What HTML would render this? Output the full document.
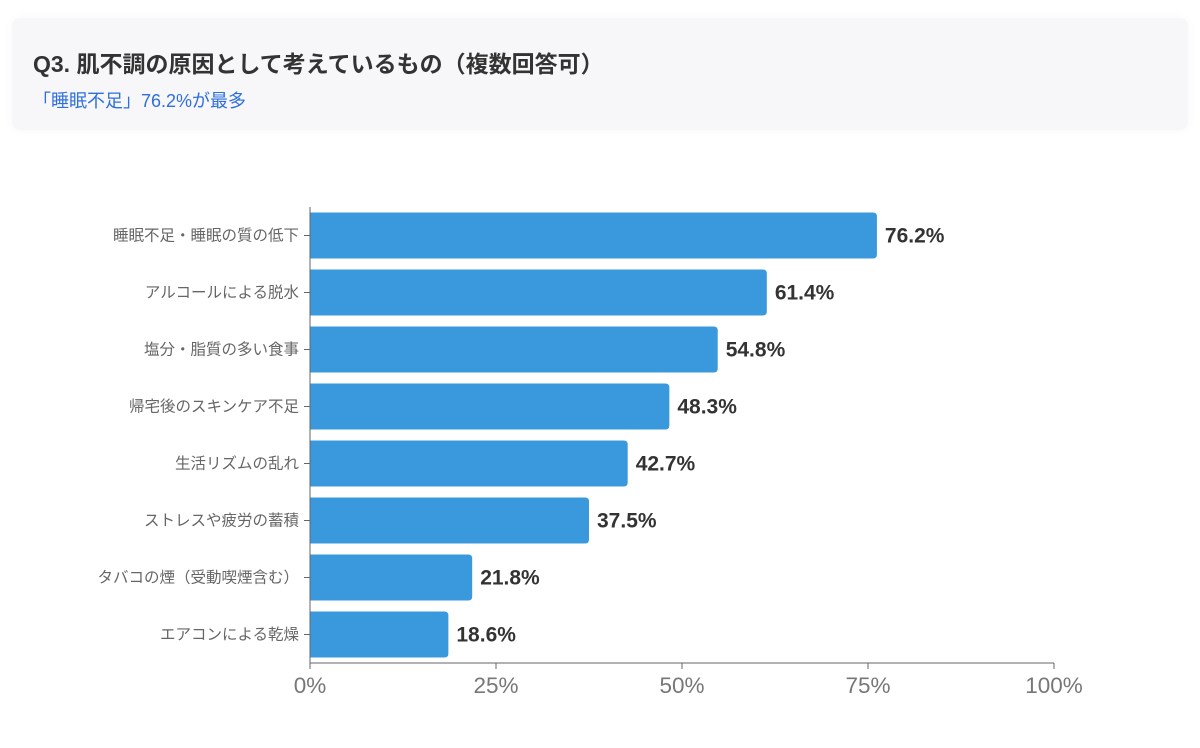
<!DOCTYPE html>
<html><head><meta charset="utf-8">
<style>
html,body{margin:0;padding:0;background:#fff;width:1200px;height:748px;overflow:hidden;font-family:"Liberation Sans","Noto Sans CJK JP",sans-serif;}
.hdr{position:absolute;left:12px;top:18px;width:1176px;height:112px;background:#f7f7fa;border-radius:8px;box-shadow:0 0 12px rgba(0,0,0,0.03);}
.t{position:absolute;left:21px;top:27px;font-size:23px;font-weight:bold;color:#333;white-space:nowrap;}
.s{position:absolute;left:21px;top:69px;font-size:18px;color:#2f6fdc;white-space:nowrap;}
svg{position:absolute;left:0;top:0;}
</style></head><body>
<div class="hdr">
<div class="t">Q3. 肌不調の原因として考えているもの（複数回答可）</div>
<div class="s">「睡眠不足」76.2%が最多</div>
</div>
<svg id="c" width="1200" height="748"></svg>
<script>
const categories=["睡眠不足・睡眠の質の低下","アルコールによる脱水","塩分・脂質の多い食事","帰宅後のスキンケア不足","生活リズムの乱れ","ストレスや疲労の蓄積","タバコの煙（受動喫煙含む）","エアコンによる乾燥"];
const values=[76.2,61.4,54.8,48.3,42.7,37.5,21.8,18.6];
const tickValues=[0,25,50,75,100];
const tickLabels=["0%","25%","50%","75%","100%"];
const NS="http://www.w3.org/2000/svg";
const svg=document.getElementById('c');
const X0=310,X1=1054,Y0=207,Y1=663;
const x=v=>X0+(X1-X0)*v/100;
const band=(Y1-Y0)/categories.length;
const yc=i=>Y0+band*(i+0.5);
const BH=46;
function mk(t,a){const e=document.createElementNS(NS,t);for(const k in a)e.setAttribute(k,a[k]);svg.appendChild(e);return e;}
categories.forEach((c,i)=>{
 const w=x(values[i])-X0,y=yc(i)-BH/2,r=4;
 const p=mk('path',{d:`M${X0},${y}H${X0+w-r}Q${X0+w},${y} ${X0+w},${y+r}V${y+BH-r}Q${X0+w},${y+BH} ${X0+w-r},${y+BH}H${X0}Z`,fill:'#3a98dc'});
 
 
 const v=mk('text',{x:X0+w+8,y:yc(i)+7,'font-size':21,'font-weight':'bold',fill:'#333'});
 v.textContent=values[i].toFixed(1)+'%';
 
 
 const tk=mk('line',{x1:X0-6,x2:X0,y1:yc(i),y2:yc(i),stroke:'#666','stroke-width':1});
 
 
 const l=mk('text',{x:X0-11,y:yc(i)+5,'font-size':15.5,fill:'#666','text-anchor':'end'});
 l.textContent=c;
 
 
});
const ya=mk('line',{x1:X0,x2:X0,y1:Y0,y2:Y1,stroke:'#666','stroke-width':1});


const xa=mk('line',{x1:X0,x2:X1,y1:Y1,y2:Y1,stroke:'#666','stroke-width':1});


tickValues.forEach((t,i)=>{
 const tk=mk('line',{x1:x(t),x2:x(t),y1:Y1,y2:Y1+6,stroke:'#666','stroke-width':1});
 
 
 const l=mk('text',{x:x(t),y:Y1+30,'font-size':22.5,fill:'#777','text-anchor':'middle'});
 l.textContent=tickLabels[i];
 
 
});
</script>
</body></html>
